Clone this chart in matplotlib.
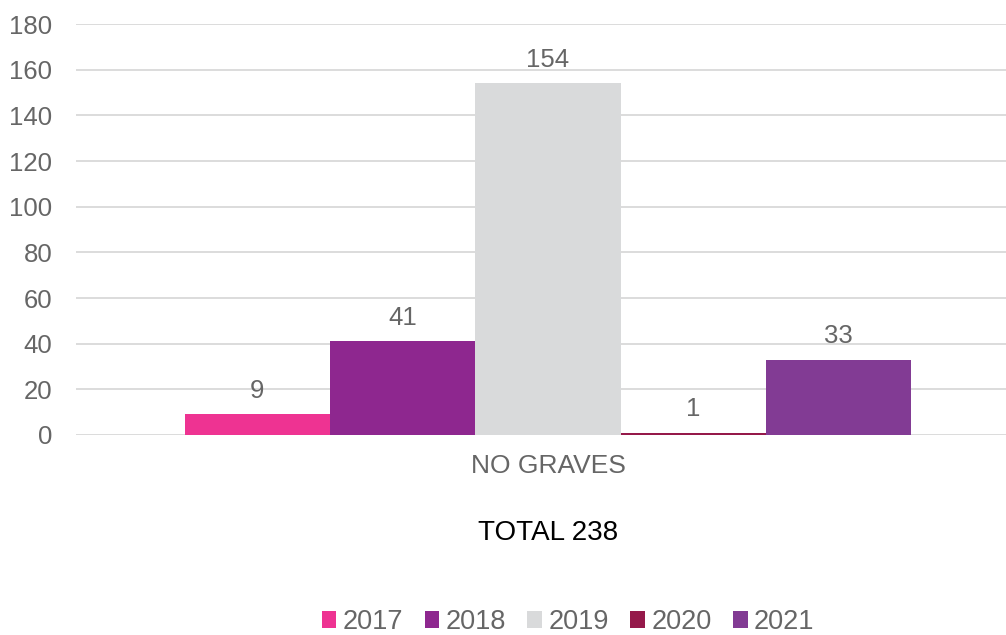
import matplotlib
matplotlib.use("Agg")
import matplotlib.pyplot as plt
from matplotlib.patches import Patch

plt.rcParams["font.family"] = ["Liberation Sans", "DejaVu Sans"]

category = "NO GRAVES"
years = ["2017", "2018", "2019", "2020", "2021"]
values = [9, 41, 154, 1, 33]
colors = ["#EE3392", "#8E278F", "#D9DADB", "#95194A", "#823B94"]
text_gray = "#666666"

fig = plt.figure(figsize=(10.06, 6.35), dpi=100)
# plot area runs past the right edge of the figure, as in the original
ax = fig.add_axes([76 / 1006, 0.315, 930 / 1006, 0.647])

# Bars grouped around x = 0
group = 0.77
width = group / len(years)
for i, (yr, v, c) in enumerate(zip(years, values, colors)):
    x = -group / 2 + width * (i + 0.5)
    ax.bar(x, v, width=width, color=c, zorder=3)
    ax.text(x, v + 5, str(v), ha="center", va="bottom",
            fontsize=18.5, color=text_gray)

ax.set_xlim(-0.5, 0.5 - 14 / 944)
ax.set_ylim(0, 180)
ax.set_yticks(range(0, 181, 20))
ax.set_xticks([0])
ax.set_xticklabels([category])
ax.tick_params(axis="both", length=0, labelcolor=text_gray)
ax.tick_params(axis="y", labelsize=18.5, pad=17)
ax.tick_params(axis="x", labelsize=19, pad=14)
ax.grid(axis="y", color="#D9D9D9", linewidth=1.3, zorder=0)
for s in ax.spines.values():
    s.set_visible(False)

fig.text(548 / 1006, 1 - 533 / 635, "TOTAL 238", ha="center", va="center",
         fontsize=20, color="#000000")

handles = [Patch(facecolor=c, label=y) for y, c in zip(years, colors)]
fig.legend(handles=handles, loc="center", bbox_to_anchor=(568 / 1006, 1 - 622 / 635),
           ncol=5, frameon=False, fontsize=19.5, handlelength=0.55, handleheight=0.55,
           handletextpad=0.22, columnspacing=0.8, labelcolor=text_gray)

fig.savefig("out.png", dpi=100)
